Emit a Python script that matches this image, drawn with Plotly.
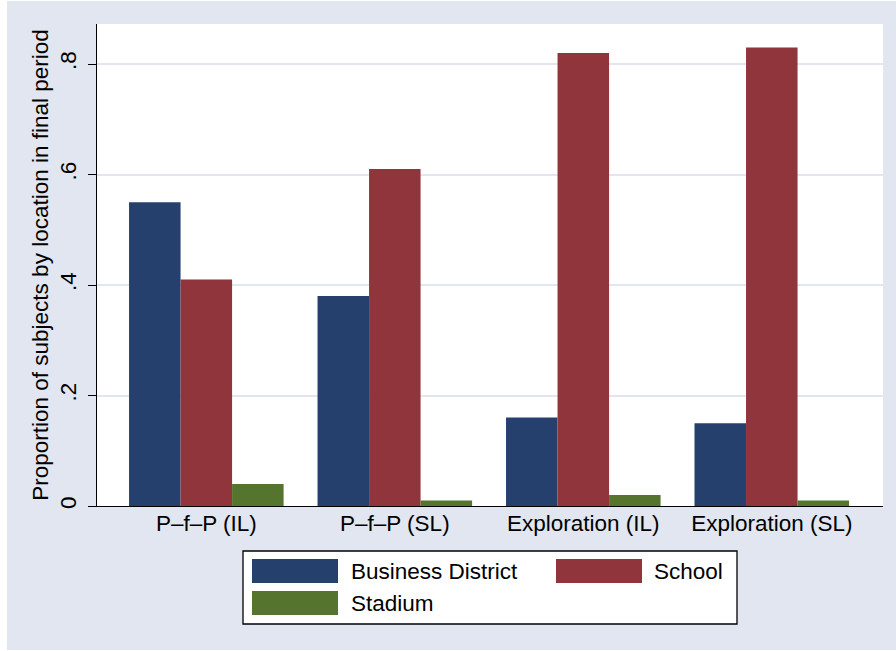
import plotly.graph_objects as go

categories = ["P\u2013f\u2013P (IL)", "P\u2013f\u2013P (SL)", "Exploration (IL)", "Exploration (SL)"]
series_names = ["Business District", "School", "Stadium"]
business = [0.55, 0.38, 0.16, 0.15]
school = [0.41, 0.61, 0.82, 0.83]
stadium = [0.04, 0.01, 0.02, 0.01]
y_ticks = [0, 0.2, 0.4, 0.6, 0.8]
y_ticklabels = ["0", ".2", ".4", ".6", ".8"]
colors = ["#26406E", "#90353B", "#55752F"]

W, H = 896, 651
L, R, T, B = 97, 883, 24, 506  # plot area pixel bounds

def px(x):
    return (x - L) / (R - L)

def py(y):
    return (B - y) / (B - T)

FONT = "Liberation Sans, Arial, Helvetica, sans-serif"
FS = 22.5
BG = "#E1E6F0"

fig = go.Figure()
for name, vals, col in zip(series_names, [business, school, stadium], colors):
    fig.add_trace(go.Bar(x=categories, y=vals, name=name, marker=dict(color=col, line=dict(width=0)),
                         showlegend=False, hoverinfo="skip"))

shapes = []
annotations = []
# white outer strips (image border)
shapes.append(dict(type="rect", xref="paper", yref="paper", x0=px(0), x1=px(7), y0=py(H), y1=py(0),
                   fillcolor="white", line=dict(width=0), layer="below"))
shapes.append(dict(type="rect", xref="paper", yref="paper", x0=px(0), x1=px(W), y0=py(H), y1=py(650),
                   fillcolor="white", line=dict(width=0), layer="below"))
shapes.append(dict(type="rect", xref="paper", yref="paper", x0=px(0), x1=px(W), y0=py(1), y1=py(0),
                   fillcolor="white", line=dict(width=0), layer="below"))

# custom legend
shapes.append(dict(type="rect", xref="paper", yref="paper", x0=px(243), x1=px(737), y0=py(624), y1=py(551),
                   fillcolor="white", line=dict(color="black", width=1.3)))
legend_pos = [(252, 559, 349), (556, 559, 652), (252, 591, 349)]
for (x0, y0, tx), name, col in zip(legend_pos, series_names, colors):
    shapes.append(dict(type="rect", xref="paper", yref="paper", x0=px(x0), x1=px(x0 + 86),
                       y0=py(y0 + 24), y1=py(y0), fillcolor=col, line=dict(width=0)))
    annotations.append(dict(xref="paper", yref="paper", x=px(tx), y=py(y0 + 12), text=name,
                            showarrow=False, xanchor="left", yanchor="middle",
                            font=dict(family=FONT, size=FS, color="black")))

fig.update_layout(
    width=W, height=H,
    margin=dict(l=L, r=W - R, t=T, b=H - B, pad=0),
    paper_bgcolor=BG, plot_bgcolor="white",
    barmode="group", bargap=0.18, bargroupgap=0,
    font=dict(family=FONT, size=FS, color="black"),
    shapes=shapes, annotations=annotations,
    hovermode=False,
    xaxis=dict(range=[-0.58, 3.59], showline=True, linecolor="black", linewidth=1.3,
               ticks="", showgrid=False, tickfont=dict(size=FS), fixedrange=True,
               ticklabelstandoff=-3),
    yaxis=dict(range=[0, 0.8724], tickvals=y_ticks, ticktext=y_ticklabels, tickangle=-90,
               showline=True, linecolor="black", linewidth=1.3, ticks="outside", ticklen=8,
               tickcolor="black", showgrid=True, gridcolor=BG, gridwidth=1.5, zeroline=False,
               tickfont=dict(size=FS), fixedrange=True, ticklabelstandoff=3,
               title=dict(text="Proportion of subjects by location in final period",
                          font=dict(size=FS), standoff=0)),
)

fig.write_html("out.html", config={"displayModeBar": False},
               post_script="document.body.style.margin='0';document.body.style.padding='0';")
